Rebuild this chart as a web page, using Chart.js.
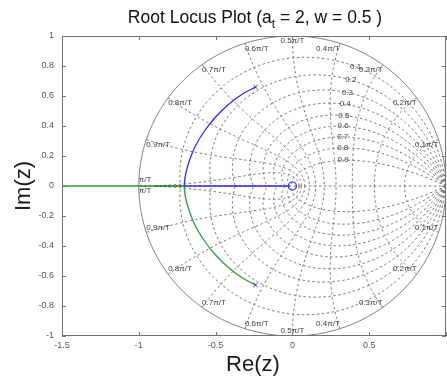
<!DOCTYPE html>
<html><head><meta charset="utf-8">
<script src="https://cdn.jsdelivr.net/npm/chart.js@4/dist/chart.umd.min.js"></script>
<style>html,body{margin:0;padding:0;background:#fff;}#wrap{width:447px;height:383px;position:relative;}</style>
</head><body><div id="wrap"><canvas id="c" width="447" height="383"></canvas></div>
<script>
// ---- data ----
const xTicks = [-1.5, -1, -0.5, 0, 0.5, 1];
const yTicks = [-1, -0.8, -0.6, -0.4, -0.2, 0, 0.2, 0.4, 0.6, 0.8, 1];
const zetaValues = [0.1, 0.2, 0.3, 0.4, 0.5, 0.6, 0.7, 0.8, 0.9];
const zetaLabels = ['0.1', '0.2', '0.3', '0.4', '0.5', '0.6', '0.7', '0.8', '0.9'];
const wnFractions = [0.1, 0.2, 0.3, 0.4, 0.5, 0.6, 0.7, 0.8, 0.9, 1.0];
const wnLabels = ['0.1π/T', '0.2π/T', '0.3π/T', '0.4π/T', '0.5π/T', '0.6π/T', '0.7π/T', '0.8π/T', '0.9π/T', 'π/T'];
const poleRe = [-0.24, -0.24];
const poleIm = [0.66, -0.66];
const zeroRe = [0];
const zeroIm = [0];
const upperArcRe = [-0.24, -0.33, -0.42, -0.50, -0.57, -0.63, -0.67, -0.695, -0.705];
const upperArcIm = [0.66, 0.61, 0.54, 0.46, 0.37, 0.27, 0.17, 0.08, 0];
const lowerArcRe = [-0.24, -0.33, -0.42, -0.50, -0.57, -0.63, -0.67, -0.695, -0.705];
const lowerArcIm = [-0.66, -0.61, -0.54, -0.46, -0.37, -0.27, -0.17, -0.08, 0];
const blueAxisRe = [-0.705, -0.02];
const greenAxisRe = [-0.705, -1.5];
const darkDotRe = [-0.89, -0.72];

const pts = (xs, ys) => xs.map((x, i) => ({x: x, y: ys[i]}));
const onAxis = xs => xs.map(x => ({x: x, y: 0}));

const BLUE = '#2a2ae6', GREEN = '#2f9a3a', GRID = '#767676', BORDER = '#70707f';
const FONT = '"Liberation Sans", Arial, sans-serif';

// z-plane grid (zgrid-style) drawn with the chart's scales
const zgridPlugin = {
  id: 'zgrid',
  beforeDatasetsDraw(chart) {
    const {ctx, chartArea: a, scales: {x, y}} = chart;
    const P = (re, im) => [x.getPixelForValue(re), y.getPixelForValue(im)];
    ctx.save();
    ctx.beginPath(); ctx.rect(a.left, a.top, a.right - a.left, a.bottom - a.top); ctx.clip();
    const curve = (fn, n, sign) => {
      ctx.beginPath();
      for (let i = 0; i <= n; i++) {
        const [re, im] = fn(i / n);
        const [px, py] = P(re, sign * im);
        if (i === 0) ctx.moveTo(px, py); else ctx.lineTo(px, py);
      }
      ctx.stroke();
    };
    ctx.strokeStyle = GRID; ctx.lineWidth = 1; ctx.setLineDash([2.5, 2.5]);
    zetaValues.forEach(z => {
      const m = z / Math.sqrt(1 - z * z);
      const fn = t => { const th = Math.PI * t, r = Math.exp(-m * th); return [r * Math.cos(th), r * Math.sin(th)]; };
      curve(fn, 120, 1); curve(fn, 120, -1);
    });
    wnFractions.forEach(f => {
      const wn = f * Math.PI;
      const fn = t => { const r = Math.exp(-t * wn), th = wn * Math.sqrt(1 - t * t); return [r * Math.cos(th), r * Math.sin(th)]; };
      curve(fn, 120, 1); curve(fn, 120, -1);
    });
    // real axis
    ctx.beginPath(); let p1 = P(-1, 0), p2 = P(1, 0); ctx.moveTo(p1[0], p1[1]); ctx.lineTo(p2[0], p2[1]); ctx.stroke();
    // unit circle
    ctx.setLineDash([]); ctx.strokeStyle = '#7c7c7c';
    curve(t => [Math.cos(Math.PI * t), Math.sin(Math.PI * t)], 200, 1);
    curve(t => [Math.cos(Math.PI * t), Math.sin(Math.PI * t)], 200, -1);
    // labels
    ctx.fillStyle = '#3a3a3a'; ctx.font = '8px ' + FONT; ctx.textBaseline = 'middle';
    wnFractions.forEach((f, i) => {
      const th = f * Math.PI;
      const [px, pyT] = P(Math.cos(th), Math.sin(th));
      const [, pyB] = P(Math.cos(th), -Math.sin(th));
      ctx.textAlign = f < 0.5 ? 'right' : (f > 0.5 ? 'left' : 'center');
      if (f === 1.0) {
        ctx.fillText(wnLabels[i], px, pyT - 6);
        ctx.fillText(wnLabels[i], px, pyB + 5);
      } else {
        ctx.fillText(wnLabels[i], px, pyT + 5);
        ctx.fillText(wnLabels[i], px, pyB - 5);
      }
    });
    ctx.textAlign = 'center';
    zetaValues.forEach((z, i) => {
      const wn = 0.35 * Math.PI, r = Math.exp(-z * wn), th = wn * Math.sqrt(1 - z * z);
      const [px, py] = P(r * Math.cos(th), r * Math.sin(th));
      ctx.fillText(zetaLabels[i], px, py);
    });
    ctx.restore();
  },
  afterDatasetsDraw(chart) {
    const {ctx, scales: {x, y}} = chart;
    ctx.save();
    ctx.strokeStyle = '#333'; ctx.lineWidth = 1.2; ctx.setLineDash([2, 2]);
    ctx.beginPath();
    ctx.moveTo(x.getPixelForValue(darkDotRe[0]), y.getPixelForValue(0));
    ctx.lineTo(x.getPixelForValue(darkDotRe[1]), y.getPixelForValue(0));
    ctx.stroke();
    ctx.restore();
  },
  afterDraw(chart) {
    const {ctx, chartArea: a, scales: {x, y}} = chart;
    ctx.save();
    // box and inward ticks
    ctx.strokeStyle = BORDER; ctx.lineWidth = 1;
    ctx.strokeRect(a.left + 0.5, a.top + 0.5, a.right - a.left - 1, a.bottom - a.top - 1);
    ctx.beginPath();
    xTicks.forEach(v => { const px = Math.round(x.getPixelForValue(v)) + 0.5;
      ctx.moveTo(px, a.bottom); ctx.lineTo(px, a.bottom - 4); ctx.moveTo(px, a.top); ctx.lineTo(px, a.top + 4); });
    yTicks.forEach(v => { const py = Math.round(y.getPixelForValue(v)) + 0.5;
      ctx.moveTo(a.left, py); ctx.lineTo(a.left + 4, py); ctx.moveTo(a.right, py); ctx.lineTo(a.right - 4, py); });
    ctx.stroke();
    // title with subscript
    ctx.fillStyle = '#111'; ctx.textBaseline = 'alphabetic'; ctx.textAlign = 'left';
    const big = '17.5px ' + FONT, small = '12px ' + FONT;
    const s1 = 'Root Locus Plot (a', s2 = 't', s3 = ' = 2, w = 0.5 )';
    ctx.font = big; const w1 = ctx.measureText(s1).width, w3 = ctx.measureText(s3).width;
    ctx.font = small; const w2 = ctx.measureText(s2).width;
    let tx = 255 - (w1 + w2 + w3) / 2;
    ctx.font = big; ctx.fillText(s1, tx, 23); tx += w1;
    ctx.font = small; ctx.fillText(s2, tx, 28); tx += w2;
    ctx.font = big; ctx.fillText(s3, tx, 23);
    // axis titles
    ctx.fillStyle = '#1a1a1a';
    ctx.font = '22px ' + FONT; ctx.textAlign = 'center'; ctx.textBaseline = 'middle';
    ctx.fillText('Re(z)', 253, 365);
    ctx.translate(24, 186); ctx.rotate(-Math.PI / 2); ctx.fillText('Im(z)', 0, 0);
    ctx.restore();
  }
};

const lineDs = (data, color, tension) => ({data, borderColor: color, backgroundColor: color, showLine: true,
  pointRadius: 0, borderWidth: 1.3, tension: tension, fill: false, order: 2});

new Chart(document.getElementById('c'), {
  type: 'scatter',
  data: {datasets: [
    lineDs(pts(upperArcRe, upperArcIm), BLUE, 0.35),
    lineDs(onAxis(blueAxisRe), BLUE, 0),
    lineDs(pts(lowerArcRe, lowerArcIm), GREEN, 0.35),
    lineDs(onAxis(greenAxisRe), GREEN, 0),
    {data: pts(poleRe, poleIm), pointStyle: 'crossRot', pointRadius: 3, borderColor: BLUE, borderWidth: 1, showLine: false, order: 1},
    {data: pts(zeroRe, zeroIm), pointStyle: 'circle', pointRadius: 4, borderColor: BLUE, backgroundColor: 'rgba(0,0,0,0)', borderWidth: 1.2, showLine: false, order: 1}
  ]},
  options: {
    responsive: false, animation: false, devicePixelRatio: 1,
    layout: {autoPadding: false, padding: {top: 36, right: 1, bottom: 0, left: 0}},
    plugins: {legend: {display: false}, tooltip: {enabled: false}, title: {display: false}},
    scales: {
      x: {type: 'linear', min: -1.5, max: 1,
        afterBuildTicks: s => { s.ticks = xTicks.map(v => ({value: v})); },
        afterFit: s => { s.height = 47; s.paddingLeft = 0; s.paddingRight = 0; },
        grid: {display: false, drawTicks: false}, border: {display: false},
        ticks: {padding: 4, color: '#555', font: {size: 9, family: FONT}, maxRotation: 0, autoSkip: false,
          callback: v => (v === 1 ? '' : String(v))}},
      y: {type: 'linear', min: -1, max: 1,
        afterBuildTicks: s => { s.ticks = yTicks.map(v => ({value: v})); },
        afterFit: s => { s.width = 62; },
        grid: {display: false, drawTicks: false}, border: {display: false},
        ticks: {padding: 8, color: '#555', font: {size: 9, family: FONT}, autoSkip: false,
          callback: v => String(v)}}
    }
  },
  plugins: [zgridPlugin]
});
</script></body></html>
